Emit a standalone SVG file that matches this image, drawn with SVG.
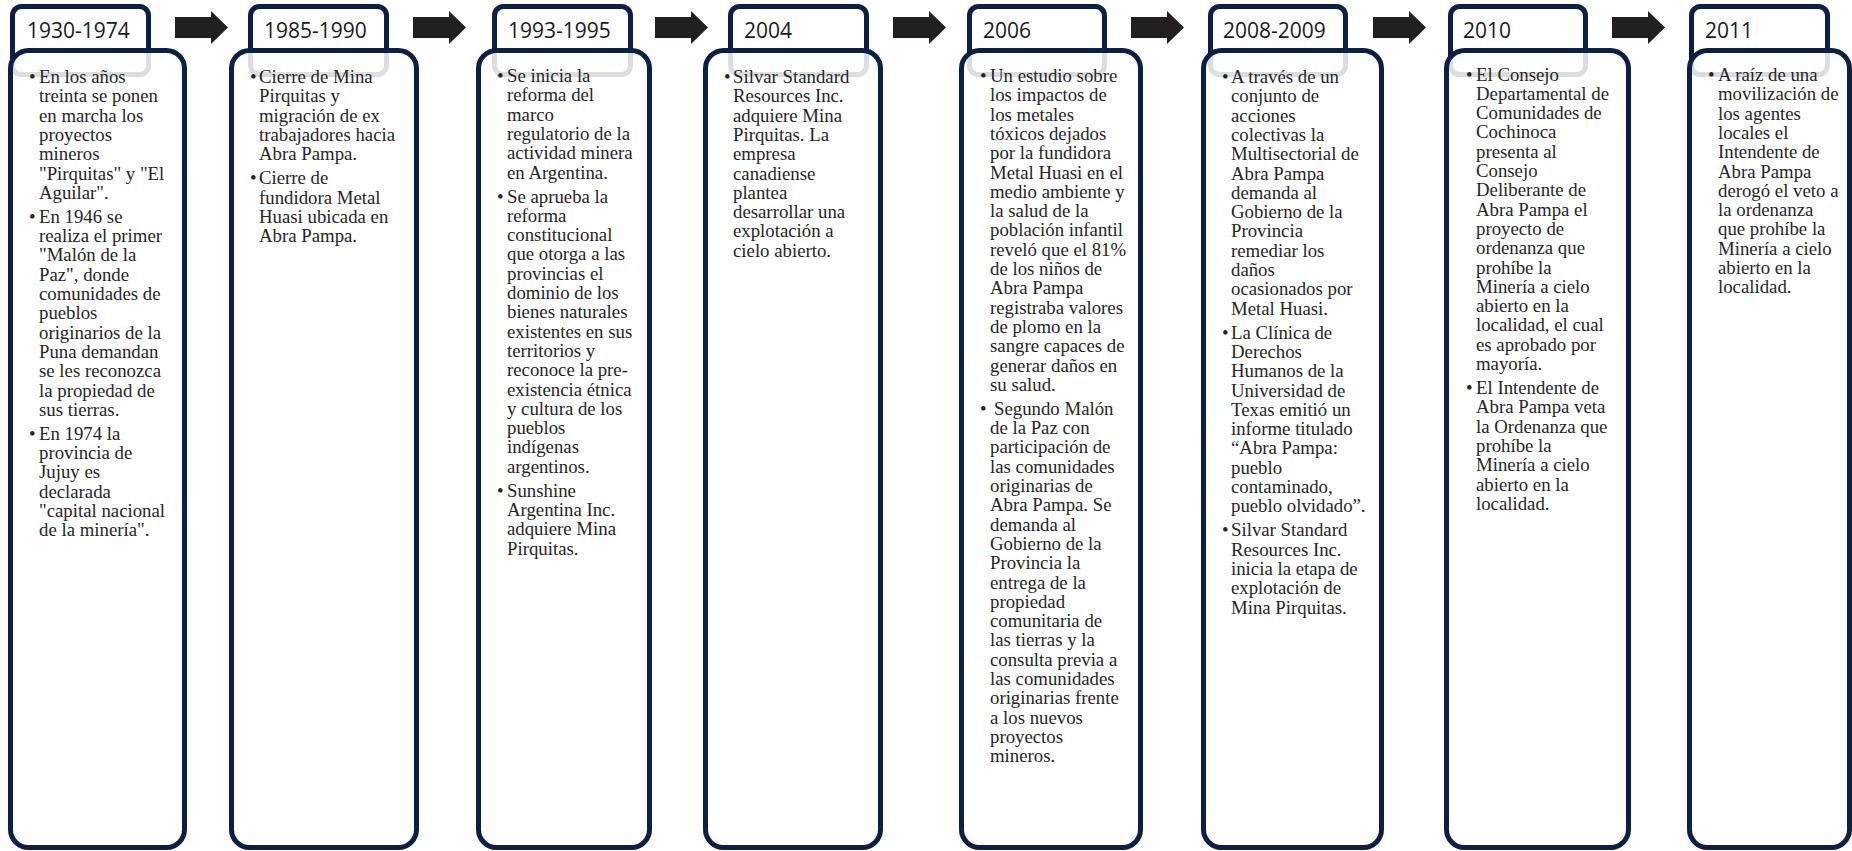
<svg xmlns="http://www.w3.org/2000/svg" width="1852" height="851" viewBox="0 0 1852 851">
<defs>
<style>
.hdr{fill:#ffffff;stroke:#0c1f44;stroke-width:5}
.body{fill:#ffffff;fill-opacity:0.85;stroke:#0c1f44;stroke-width:5}
.yr{font-family:"Open Sans","Liberation Sans",sans-serif;font-size:21px;fill:#1a1a1a}
.t{font-family:"Liberation Serif","Times New Roman",serif;font-size:18.8px;fill:#262626}
.arr{fill:#231f20}
</style>
</defs>
<rect x="0" y="0" width="1852" height="851" fill="#ffffff"/>
<g id="connectors">
<polygon class="arr" points="175,17 211,17 211,11 228,27.5 211,44 211,38 175,38"/>
<polygon class="arr" points="413,17 449,17 449,11 466,27.5 449,44 449,38 413,38"/>
<polygon class="arr" points="655,17 691,17 691,11 708,27.5 691,44 691,38 655,38"/>
<polygon class="arr" points="893,17 929,17 929,11 946,27.5 929,44 929,38 893,38"/>
<polygon class="arr" points="1131,17 1167,17 1167,11 1184,27.5 1167,44 1167,38 1131,38"/>
<polygon class="arr" points="1373,17 1409,17 1409,11 1426,27.5 1409,44 1409,38 1373,38"/>
<polygon class="arr" points="1612,17 1648,17 1648,11 1665,27.5 1648,44 1648,38 1612,38"/>
</g>
<g id="n1">
<rect class="hdr" x="12.5" y="6.5" width="136" height="68" rx="9"/>
<text class="yr" x="27" y="38">1930-1974</text>
<rect class="body" x="10.5" y="50.5" width="174" height="797" rx="18"/>
<text class="t"><tspan x="29" y="83">•</tspan><tspan x="29" y="222.8">•</tspan><tspan x="29" y="439.8">•</tspan></text>
<text class="t"><tspan x="39" y="83">En los años</tspan><tspan x="39" dy="19.3">treinta se ponen</tspan><tspan x="39" dy="19.3">en marcha los</tspan><tspan x="39" dy="19.3">proyectos</tspan><tspan x="39" dy="19.3">mineros</tspan><tspan x="39" dy="19.3">"Pirquitas" y "El</tspan><tspan x="39" dy="19.3">Aguilar".</tspan><tspan x="39" y="222.8">En 1946 se</tspan><tspan x="39" dy="19.3">realiza el primer</tspan><tspan x="39" dy="19.3">"Malón de la</tspan><tspan x="39" dy="19.3">Paz", donde</tspan><tspan x="39" dy="19.3">comunidades de</tspan><tspan x="39" dy="19.3">pueblos</tspan><tspan x="39" dy="19.3">originarios de la</tspan><tspan x="39" dy="19.3">Puna demandan</tspan><tspan x="39" dy="19.3">se les reconozca</tspan><tspan x="39" dy="19.3">la propiedad de</tspan><tspan x="39" dy="19.3">sus tierras.</tspan><tspan x="39" y="439.8">En 1974 la</tspan><tspan x="39" dy="19.3">provincia de</tspan><tspan x="39" dy="19.3">Jujuy es</tspan><tspan x="39" dy="19.3">declarada</tspan><tspan x="39" dy="19.3">"capital nacional</tspan><tspan x="39" dy="19.3">de la minería".</tspan></text>
</g>
<g id="n2">
<rect class="hdr" x="250.5" y="6.5" width="136" height="68" rx="9"/>
<text class="yr" x="264" y="38">1985-1990</text>
<rect class="body" x="231.5" y="50.5" width="185" height="797" rx="18"/>
<text class="t"><tspan x="250" y="83">•</tspan><tspan x="250" y="184.2">•</tspan></text>
<text class="t"><tspan x="259" y="83">Cierre de Mina</tspan><tspan x="259" dy="19.3">Pirquitas y</tspan><tspan x="259" dy="19.3">migración de ex</tspan><tspan x="259" dy="19.3">trabajadores hacia</tspan><tspan x="259" dy="19.3">Abra Pampa.</tspan><tspan x="259" y="184.2">Cierre de</tspan><tspan x="259" dy="19.3">fundidora Metal</tspan><tspan x="259" dy="19.3">Huasi ubicada en</tspan><tspan x="259" dy="19.3">Abra Pampa.</tspan></text>
</g>
<g id="n3">
<rect class="hdr" x="494.5" y="6.5" width="136" height="68" rx="9"/>
<text class="yr" x="508" y="38">1993-1995</text>
<rect class="body" x="478.5" y="50.5" width="171" height="797" rx="18"/>
<text class="t"><tspan x="497" y="82">•</tspan><tspan x="497" y="202.5">•</tspan><tspan x="497" y="496.7">•</tspan></text>
<text class="t"><tspan x="507" y="82">Se inicia la</tspan><tspan x="507" dy="19.3">reforma del</tspan><tspan x="507" dy="19.3">marco</tspan><tspan x="507" dy="19.3">regulatorio de la</tspan><tspan x="507" dy="19.3">actividad minera</tspan><tspan x="507" dy="19.3">en Argentina.</tspan><tspan x="507" y="202.5">Se aprueba la</tspan><tspan x="507" dy="19.3">reforma</tspan><tspan x="507" dy="19.3">constitucional</tspan><tspan x="507" dy="19.3">que otorga a las</tspan><tspan x="507" dy="19.3">provincias el</tspan><tspan x="507" dy="19.3">dominio de los</tspan><tspan x="507" dy="19.3">bienes naturales</tspan><tspan x="507" dy="19.3">existentes en sus</tspan><tspan x="507" dy="19.3">territorios y</tspan><tspan x="507" dy="19.3">reconoce la pre-</tspan><tspan x="507" dy="19.3">existencia étnica</tspan><tspan x="507" dy="19.3">y cultura de los</tspan><tspan x="507" dy="19.3">pueblos</tspan><tspan x="507" dy="19.3">indígenas</tspan><tspan x="507" dy="19.3">argentinos.</tspan><tspan x="507" y="496.7">Sunshine</tspan><tspan x="507" dy="19.3">Argentina Inc.</tspan><tspan x="507" dy="19.3">adquiere Mina</tspan><tspan x="507" dy="19.3">Pirquitas.</tspan></text>
</g>
<g id="n4">
<rect class="hdr" x="730.5" y="6.5" width="136" height="68" rx="9"/>
<text class="yr" x="744" y="38">2004</text>
<rect class="body" x="705.5" y="50.5" width="175" height="797" rx="18"/>
<text class="t"><tspan x="724" y="83">•</tspan></text>
<text class="t"><tspan x="733" y="83">Silvar Standard</tspan><tspan x="733" dy="19.3">Resources Inc.</tspan><tspan x="733" dy="19.3">adquiere Mina</tspan><tspan x="733" dy="19.3">Pirquitas. La</tspan><tspan x="733" dy="19.3">empresa</tspan><tspan x="733" dy="19.3">canadiense</tspan><tspan x="733" dy="19.3">plantea</tspan><tspan x="733" dy="19.3">desarrollar una</tspan><tspan x="733" dy="19.3">explotación a</tspan><tspan x="733" dy="19.3">cielo abierto.</tspan></text>
</g>
<g id="n5">
<rect class="hdr" x="969.5" y="6.5" width="135" height="68" rx="9"/>
<text class="yr" x="983" y="38">2006</text>
<rect class="body" x="961.5" y="50.5" width="179" height="797" rx="18"/>
<text class="t"><tspan x="980" y="82">•</tspan><tspan x="980" y="414.8">•</tspan></text>
<text class="t"><tspan x="990" y="82">Un estudio sobre</tspan><tspan x="990" dy="19.3">los impactos de</tspan><tspan x="990" dy="19.3">los metales</tspan><tspan x="990" dy="19.3">tóxicos dejados</tspan><tspan x="990" dy="19.3">por la fundidora</tspan><tspan x="990" dy="19.3">Metal Huasi en el</tspan><tspan x="990" dy="19.3">medio ambiente y</tspan><tspan x="990" dy="19.3">la salud de la</tspan><tspan x="990" dy="19.3">población infantil</tspan><tspan x="990" dy="19.3">reveló que el 81%</tspan><tspan x="990" dy="19.3">de los niños de</tspan><tspan x="990" dy="19.3">Abra Pampa</tspan><tspan x="990" dy="19.3">registraba valores</tspan><tspan x="990" dy="19.3">de plomo en la</tspan><tspan x="990" dy="19.3">sangre capaces de</tspan><tspan x="990" dy="19.3">generar daños en</tspan><tspan x="990" dy="19.3">su salud.</tspan><tspan x="994" y="414.8">Segundo Malón</tspan><tspan x="990" dy="19.3">de la Paz con</tspan><tspan x="990" dy="19.3">participación de</tspan><tspan x="990" dy="19.3">las comunidades</tspan><tspan x="990" dy="19.3">originarias de</tspan><tspan x="990" dy="19.3">Abra Pampa. Se</tspan><tspan x="990" dy="19.3">demanda al</tspan><tspan x="990" dy="19.3">Gobierno de la</tspan><tspan x="990" dy="19.3">Provincia la</tspan><tspan x="990" dy="19.3">entrega de la</tspan><tspan x="990" dy="19.3">propiedad</tspan><tspan x="990" dy="19.3">comunitaria de</tspan><tspan x="990" dy="19.3">las tierras y la</tspan><tspan x="990" dy="19.3">consulta previa a</tspan><tspan x="990" dy="19.3">las comunidades</tspan><tspan x="990" dy="19.3">originarias frente</tspan><tspan x="990" dy="19.3">a los nuevos</tspan><tspan x="990" dy="19.3">proyectos</tspan><tspan x="990" dy="19.3">mineros.</tspan></text>
</g>
<g id="n6">
<rect class="hdr" x="1210.5" y="6.5" width="135" height="68" rx="9"/>
<text class="yr" x="1223" y="38">2008-2009</text>
<rect class="body" x="1203.5" y="50.5" width="178" height="797" rx="18"/>
<text class="t"><tspan x="1222" y="83">•</tspan><tspan x="1222" y="338.6">•</tspan><tspan x="1222" y="536.3">•</tspan></text>
<text class="t"><tspan x="1231" y="83">A través de un</tspan><tspan x="1231" dy="19.3">conjunto de</tspan><tspan x="1231" dy="19.3">acciones</tspan><tspan x="1231" dy="19.3">colectivas la</tspan><tspan x="1231" dy="19.3">Multisectorial de</tspan><tspan x="1231" dy="19.3">Abra Pampa</tspan><tspan x="1231" dy="19.3">demanda al</tspan><tspan x="1231" dy="19.3">Gobierno de la</tspan><tspan x="1231" dy="19.3">Provincia</tspan><tspan x="1231" dy="19.3">remediar los</tspan><tspan x="1231" dy="19.3">daños</tspan><tspan x="1231" dy="19.3">ocasionados por</tspan><tspan x="1231" dy="19.3">Metal Huasi.</tspan><tspan x="1231" y="338.6">La Clínica de</tspan><tspan x="1231" dy="19.3">Derechos</tspan><tspan x="1231" dy="19.3">Humanos de la</tspan><tspan x="1231" dy="19.3">Universidad de</tspan><tspan x="1231" dy="19.3">Texas emitió un</tspan><tspan x="1231" dy="19.3">informe titulado</tspan><tspan x="1231" dy="19.3">“Abra Pampa:</tspan><tspan x="1231" dy="19.3">pueblo</tspan><tspan x="1231" dy="19.3">contaminado,</tspan><tspan x="1231" dy="19.3">pueblo olvidado”.</tspan><tspan x="1231" y="536.3">Silvar Standard</tspan><tspan x="1231" dy="19.3">Resources Inc.</tspan><tspan x="1231" dy="19.3">inicia la etapa de</tspan><tspan x="1231" dy="19.3">explotación de</tspan><tspan x="1231" dy="19.3">Mina Pirquitas.</tspan></text>
</g>
<g id="n7">
<rect class="hdr" x="1450.5" y="6.5" width="135" height="68" rx="9"/>
<text class="yr" x="1463" y="38">2010</text>
<rect class="body" x="1446.5" y="50.5" width="182" height="797" rx="18"/>
<text class="t"><tspan x="1466" y="80.5">•</tspan><tspan x="1466" y="394">•</tspan></text>
<text class="t"><tspan x="1476" y="80.5">El Consejo</tspan><tspan x="1476" dy="19.3">Departamental de</tspan><tspan x="1476" dy="19.3">Comunidades de</tspan><tspan x="1476" dy="19.3">Cochinoca</tspan><tspan x="1476" dy="19.3">presenta al</tspan><tspan x="1476" dy="19.3">Consejo</tspan><tspan x="1476" dy="19.3">Deliberante de</tspan><tspan x="1476" dy="19.3">Abra Pampa el</tspan><tspan x="1476" dy="19.3">proyecto de</tspan><tspan x="1476" dy="19.3">ordenanza que</tspan><tspan x="1476" dy="19.3">prohíbe la</tspan><tspan x="1476" dy="19.3">Minería a cielo</tspan><tspan x="1476" dy="19.3">abierto en la</tspan><tspan x="1476" dy="19.3">localidad, el cual</tspan><tspan x="1476" dy="19.3">es aprobado por</tspan><tspan x="1476" dy="19.3">mayoría.</tspan><tspan x="1476" y="394">El Intendente de</tspan><tspan x="1476" dy="19.3">Abra Pampa veta</tspan><tspan x="1476" dy="19.3">la Ordenanza que</tspan><tspan x="1476" dy="19.3">prohíbe la</tspan><tspan x="1476" dy="19.3">Minería a cielo</tspan><tspan x="1476" dy="19.3">abierto en la</tspan><tspan x="1476" dy="19.3">localidad.</tspan></text>
</g>
<g id="n8">
<rect class="hdr" x="1691.5" y="6.5" width="136" height="68" rx="9"/>
<text class="yr" x="1705" y="38">2011</text>
<rect class="body" x="1689.5" y="50.5" width="160" height="797" rx="18"/>
<text class="t"><tspan x="1708" y="81">•</tspan></text>
<text class="t"><tspan x="1718" y="81">A raíz de una</tspan><tspan x="1718" dy="19.3">movilización de</tspan><tspan x="1718" dy="19.3">los agentes</tspan><tspan x="1718" dy="19.3">locales el</tspan><tspan x="1718" dy="19.3">Intendente de</tspan><tspan x="1718" dy="19.3">Abra Pampa</tspan><tspan x="1718" dy="19.3">derogó el veto a</tspan><tspan x="1718" dy="19.3">la ordenanza</tspan><tspan x="1718" dy="19.3">que prohíbe la</tspan><tspan x="1718" dy="19.3">Minería a cielo</tspan><tspan x="1718" dy="19.3">abierto en la</tspan><tspan x="1718" dy="19.3">localidad.</tspan></text>
</g>
</svg>
